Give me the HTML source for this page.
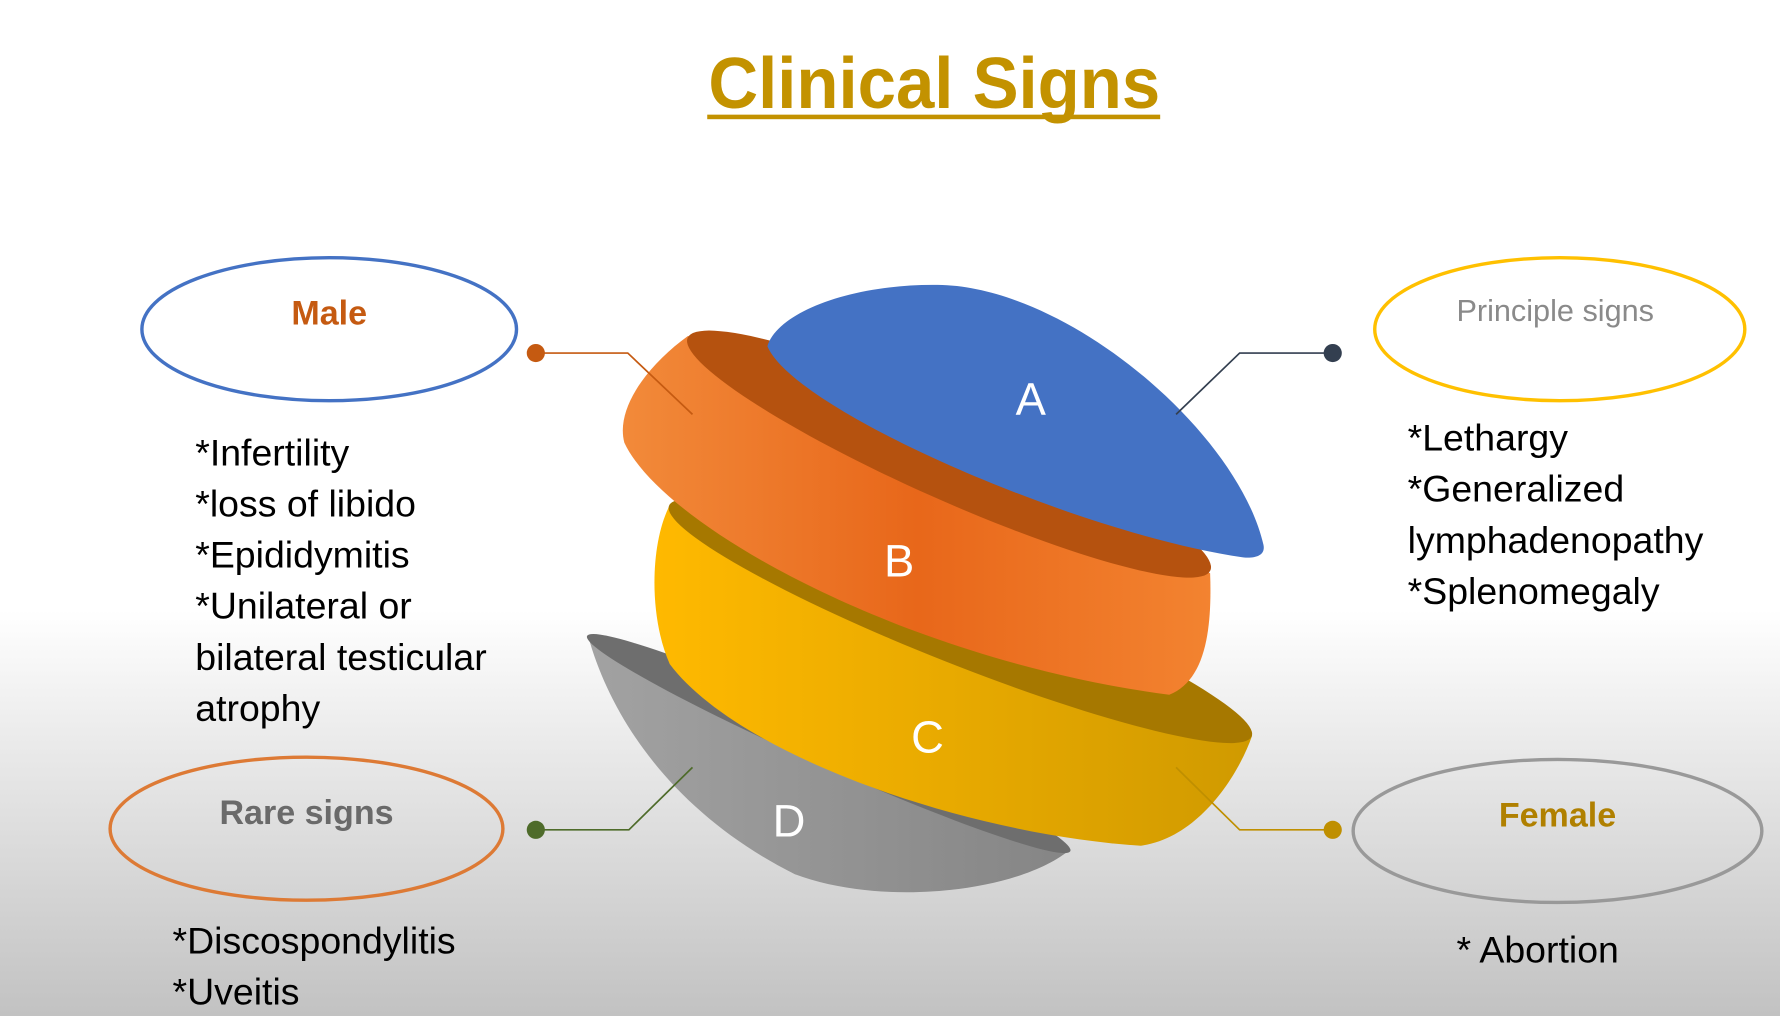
<!DOCTYPE html>
<html><head><meta charset="utf-8"><style>html,body{margin:0;padding:0;width:1780px;height:1016px;overflow:hidden}svg{display:block}</style></head>
<body>
<svg width="1780" height="1016" viewBox="0 0 1568 895" preserveAspectRatio="none" xmlns="http://www.w3.org/2000/svg" font-family="'Liberation Sans', sans-serif">
<defs>
<linearGradient id="bg" x1="0" y1="0" x2="0" y2="1">
<stop offset="0" stop-color="#ffffff"/><stop offset="0.6" stop-color="#ffffff"/><stop offset="0.72" stop-color="#ececec"/><stop offset="1" stop-color="#c2c2c2"/></linearGradient>
<linearGradient id="gB" x1="0" y1="0" x2="1" y2="0"><stop offset="0" stop-color="#F28A3A"/><stop offset="0.5" stop-color="#E8671A"/><stop offset="1" stop-color="#F38330"/></linearGradient>
<linearGradient id="gC" x1="0" y1="0" x2="1" y2="0"><stop offset="0" stop-color="#FFB900"/><stop offset="1" stop-color="#D09A00"/></linearGradient>
<linearGradient id="gD" x1="0" y1="0" x2="1" y2="0"><stop offset="0" stop-color="#A2A2A2"/><stop offset="1" stop-color="#858585"/></linearGradient>
</defs>
<rect width="1568" height="895" fill="url(#bg)"/>
<text x="823" y="95" font-size="64" font-weight="bold" fill="#C39200" text-anchor="middle" textLength="398" lengthAdjust="spacingAndGlyphs">Clinical Signs</text>
<rect x="623" y="101" width="399" height="4" fill="#C39200"/>

<!-- D -->
<path d="M518,560 C540,640 600,720 700,770 C780,800 900,785 943,748 Z" fill="url(#gD)"/>
<ellipse cx="730" cy="655" rx="233" ry="20" transform="rotate(24 730 655)" fill="#6E6E6E"/>
<!-- C -->
<path d="M590,445 C572,480 572,545 590,585 C650,665 850,735 1005,745 C1055,738 1090,685 1103,648 Z" fill="url(#gC)"/>
<ellipse cx="846" cy="547" rx="276" ry="38" transform="rotate(21.6 846 547)" fill="#A67800"/>
<!-- B -->
<path d="M606,296 C570,322 542,360 550,390 C585,465 800,582 1030,612 C1060,600 1068,560 1066,505 Z" fill="url(#gB)"/>
<ellipse cx="836" cy="400" rx="252" ry="40" transform="rotate(24 836 400)" fill="#B5520F"/>
<!-- A -->
<path d="M676,305 C685,275 750,250 826,251 C940,252 1090,380 1113,480 C1115,490 1105,492 1095,491 C950,470 700,362 676,305 Z" fill="#4472C4"/>

<g fill="#fff" font-size="40" text-anchor="middle">
<text x="908" y="365">A</text><text x="792" y="508">B</text><text x="817" y="663">C</text><text x="695" y="737">D</text>
</g>

<g fill="none" stroke-width="1.5">
<polyline points="472,311 553,311 610,365" stroke="#C55A11"/>
<polyline points="1174,311 1092,311 1036,365" stroke="#333F50"/>
<polyline points="472,731 554,731 610,676" stroke="#4E6B2A"/>
<polyline points="1174,731 1092,731 1036,676" stroke="#BF8F00"/>
</g>
<circle cx="472" cy="311" r="8" fill="#C55A11"/>
<circle cx="1174" cy="311" r="8" fill="#333F50"/>
<circle cx="472" cy="731" r="8" fill="#4E6B2A"/>
<circle cx="1174" cy="731" r="8" fill="#BF8F00"/>

<ellipse cx="290" cy="290" rx="165" ry="63" fill="#fff" stroke="#4472C4" stroke-width="3"/>
<ellipse cx="1374" cy="290" rx="163" ry="63" fill="#fff" stroke="#FFC000" stroke-width="3"/>
<ellipse cx="270" cy="730" rx="173" ry="63" fill="none" stroke="#DD7A35" stroke-width="3"/>
<ellipse cx="1372" cy="732" rx="180" ry="63" fill="none" stroke="#999" stroke-width="3"/>
<text x="290" y="286" font-size="30" font-weight="bold" fill="#C55A11" text-anchor="middle">Male</text>
<text x="1370" y="283" font-size="27" fill="#8a8a8a" text-anchor="middle">Principle signs</text>
<text x="270" y="726" font-size="30" font-weight="bold" fill="#6a6a6a" text-anchor="middle">Rare signs</text>
<text x="1372" y="728" font-size="30" font-weight="bold" fill="#B08000" text-anchor="middle">Female</text>

<g font-size="33" fill="#000">
<text x="172" y="410">*Infertility</text>
<text x="172" y="455">*loss of libido</text>
<text x="172" y="500">*Epididymitis</text>
<text x="172" y="545">*Unilateral or</text>
<text x="172" y="590">bilateral testicular</text>
<text x="172" y="635">atrophy</text>
<text x="1240" y="397">*Lethargy</text>
<text x="1240" y="442">*Generalized</text>
<text x="1240" y="487">lymphadenopathy</text>
<text x="1240" y="532">*Splenomegaly</text>
<text x="152" y="840">*Discospondylitis</text>
<text x="152" y="885">*Uveitis</text>
<text x="1283" y="848">* Abortion</text>
</g>
</svg>
</body></html>
